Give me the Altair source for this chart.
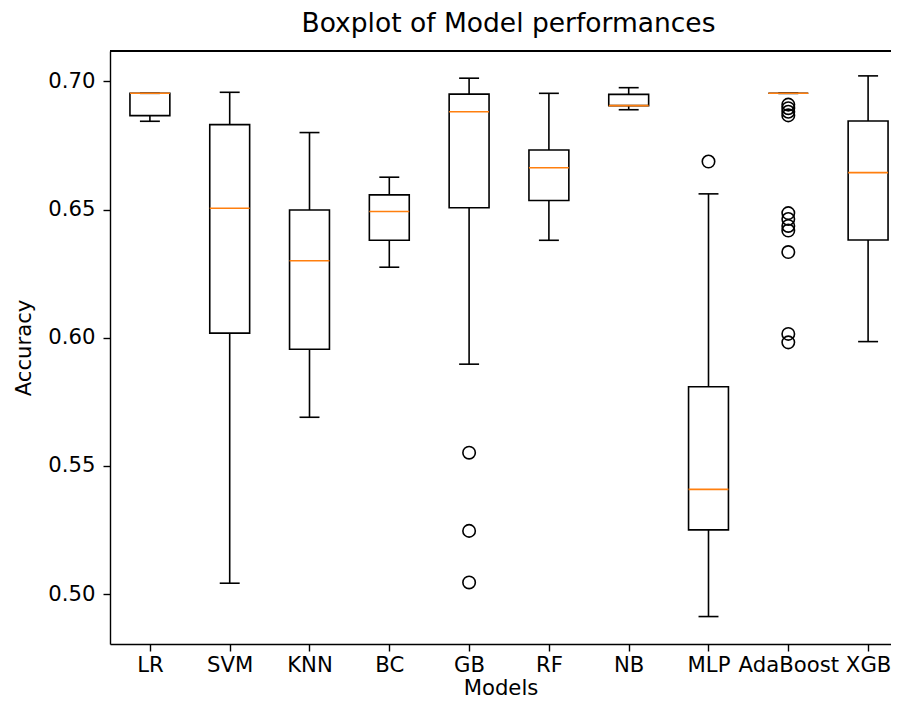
import json
import altair as alt
import pandas as pd

models = ["LR", "SVM", "KNN", "BC", "GB", "RF", "NB", "MLP", "AdaBoost", "XGB"]
positions = [1, 2, 3, 4, 5, 6, 7, 8, 9, 10]
whisker_low = [0.6844, 0.5043, 0.5690, 0.6275, 0.5897, 0.6380, 0.6889, 0.4913, 0.6953, 0.5985]
q1 = [0.6866, 0.6018, 0.5955, 0.6380, 0.6507, 0.6535, 0.6905, 0.5251, 0.6953, 0.6381]
median = [0.6953, 0.6505, 0.6300, 0.6492, 0.6881, 0.6663, 0.6905, 0.5409, 0.6953, 0.6644]
q3 = [0.6953, 0.6831, 0.6498, 0.6557, 0.6950, 0.6732, 0.6949, 0.5809, 0.6953, 0.6845]
whisker_high = [0.6953, 0.6957, 0.6800, 0.6626, 0.7012, 0.6953, 0.6975, 0.6561, 0.6953, 0.7021]

outlier_model = ["GB", "GB", "GB", "MLP",
                 "AdaBoost", "AdaBoost", "AdaBoost", "AdaBoost",
                 "AdaBoost", "AdaBoost", "AdaBoost", "AdaBoost", "AdaBoost",
                 "AdaBoost", "AdaBoost"]
outlier_value = [0.5552, 0.5247, 0.5046, 0.6687,
                 0.6909, 0.6895, 0.6881, 0.6867,
                 0.6486, 0.6463, 0.6436, 0.6418, 0.6334,
                 0.6015, 0.5982]

y_ticks = [0.50, 0.55, 0.60, 0.65, 0.70]

stats = pd.DataFrame({
    "model": models, "pos": positions, "wlo": whisker_low, "q1": q1,
    "med": median, "q3": q3, "whi": whisker_high,
})
pos_of = dict(zip(models, positions))
outliers = pd.DataFrame({
    "model": outlier_model,
    "pos": [pos_of[m] for m in outlier_model],
    "value": outlier_value,
})

W, H = 781, 593
xs = alt.Scale(domain=[0.5, 10.287], nice=False, zero=False)
ys = alt.Scale(domain=[0.4806, 0.7118], nice=False, zero=False)
xaxis = alt.Axis(values=positions, labelExpr=json.dumps(models) + "[datum.value - 1]",
                 title="Models", labelFlush=False, labelOverlap=False,
                 labelPadding=3, titleY=50, titleBaseline="alphabetic")
yaxis = alt.Axis(values=y_ticks, format=".2f", title="Accuracy",
                 labelFlush=False, labelOverlap=False, labelPadding=8,
                 titleX=-80, titleBaseline="alphabetic")


def X(f):
    return alt.X(f, type="quantitative", scale=xs, axis=xaxis)


def Y(f):
    return alt.Y(f, type="quantitative", scale=ys, axis=yaxis)


LW = 1.6
base = alt.Chart(stats).transform_calculate(
    lo="datum.pos - 0.25", hi="datum.pos + 0.25",
    clo="datum.pos - 0.125", chi="datum.pos + 0.125",
)

top_spine = base.mark_rule(color="black", strokeWidth=1.4).encode(
    x=alt.value(0), x2=alt.value(W), y=alt.value(0))
upper_whisker = base.mark_rule(color="black", strokeWidth=LW).encode(
    x=X("pos"), y=Y("q3"), y2="whi:Q")
lower_whisker = base.mark_rule(color="black", strokeWidth=LW).encode(
    x=X("pos"), y=Y("wlo"), y2="q1:Q")
upper_cap = base.mark_rule(color="black", strokeWidth=LW).encode(
    x=X("clo"), x2="chi:Q", y=Y("whi"))
lower_cap = base.mark_rule(color="black", strokeWidth=LW).encode(
    x=X("clo"), x2="chi:Q", y=Y("wlo"))
box = base.mark_rect(fill="white", fillOpacity=0, stroke="black", strokeWidth=LW).encode(
    x=X("lo"), x2="hi:Q", y=Y("q1"), y2="q3:Q")
med = base.mark_rule(color="#ff7f0e", strokeWidth=LW).encode(
    x=X("lo"), x2="hi:Q", y=Y("med"))
pts = alt.Chart(outliers).mark_point(
    shape="circle", filled=False, color="black", size=155, strokeWidth=LW, opacity=1
).encode(x=X("pos"), y=Y("value"))

chart = alt.layer(
    upper_whisker, lower_whisker, upper_cap, lower_cap, box, med, pts, top_spine
).properties(
    width=W, height=H,
    title=alt.TitleParams("Boxplot of Model performances", dx=8),
    autosize=alt.AutoSizeParams(type="none"),
    padding={"left": 102, "top": 43, "right": 0, "bottom": 52},
).configure_view(
    strokeOpacity=0
).configure_axis(
    domain=True, domainColor="black", domainWidth=1.4,
    grid=False, tickColor="black", tickSize=7, tickWidth=1.4,
    labelFont="DejaVu Sans", labelFontSize=21.2, labelColor="black",
    titleFont="DejaVu Sans", titleFontSize=21.2, titleFontWeight="normal",
    titleColor="black",
).configure_title(
    font="DejaVu Sans", fontSize=26.5, fontWeight="normal", color="black",
    anchor="middle", offset=13, baseline="alphabetic",
)

chart.save("out.html", embed_options={"renderer": "svg", "actions": False})
